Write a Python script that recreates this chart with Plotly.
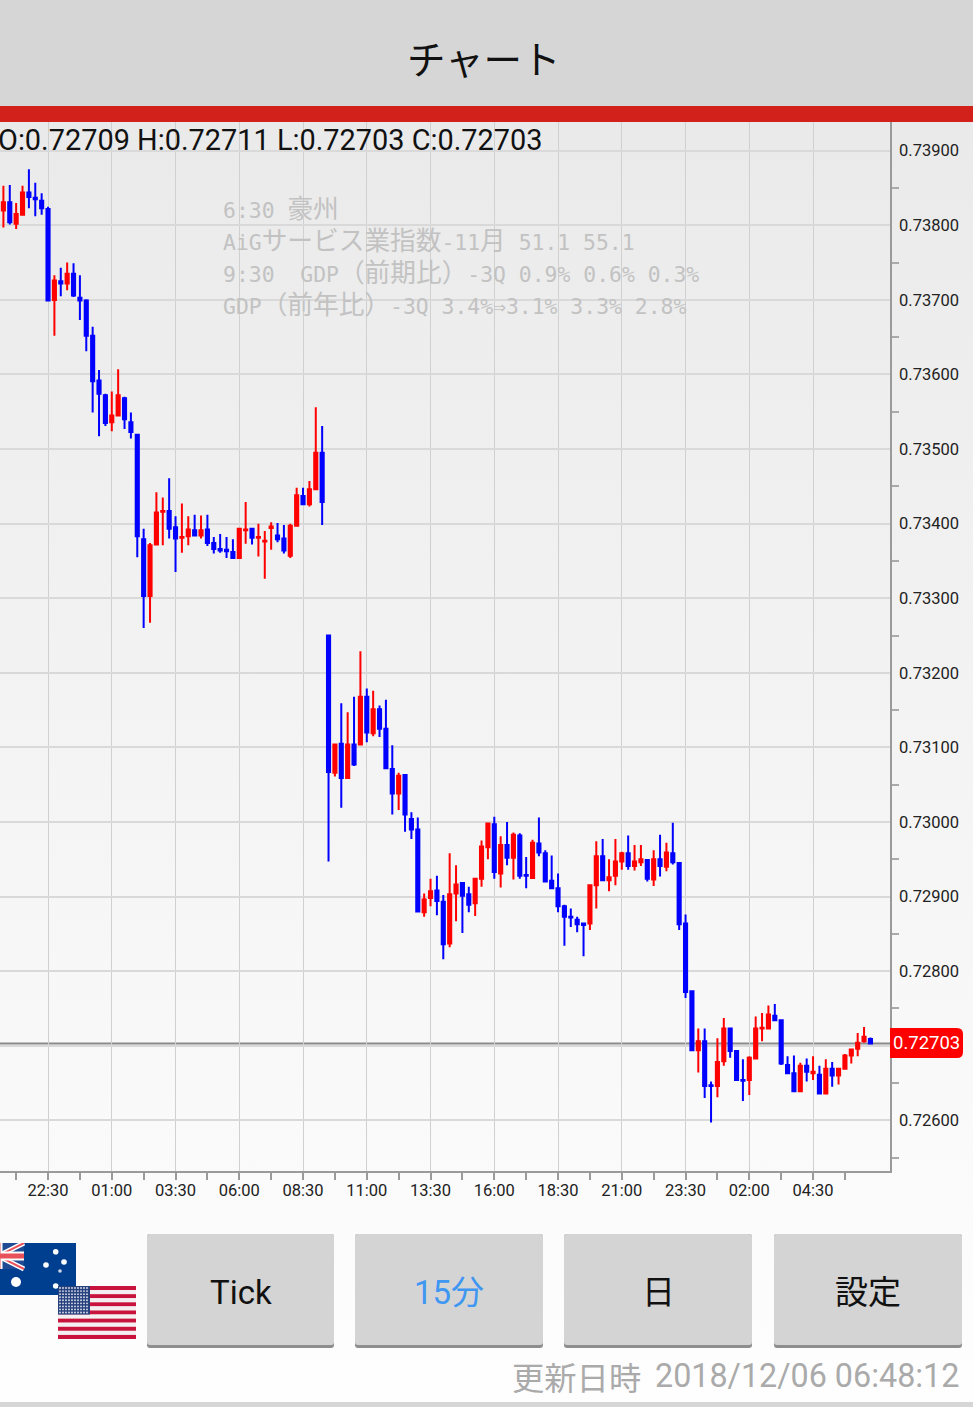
import re
from urllib.parse import quote
import plotly.graph_objects as go

# Quotes in units of 0.00001 (AUD/USD, 15-minute bars)
highs = [73853,73854,73830,73853,73875,73857,73843,73825,73733,73743,73750,73749,73733,73701,73664,73606,73574,73577,73607,73570,
         73549,73520,73393,73374,73442,73435,73461,73410,73427,73410,73412,73411,73412,73382,73386,73382,73379,73393,73429,73393,
         73400,73390,73402,73401,73398,73400,73448,73448,73457,73556,73531,73251,73105,73159,73147,73168,73229,73179,73176,73156,
         73164,73103,73066,73063,73013,73006,72904,72924,72928,72902,72958,72942,72918,72913,72924,72975,72998,73007,72981,73000,
         72986,72985,72953,72976,73006,72962,72955,72931,72889,72884,72873,72865,72915,72974,72977,72950,72977,72960,72982,72969,
         72969,72949,72962,72983,72972,72999,72945,72876,72773,72723,72723,72652,72710,72737,72723,72694,72682,72686,72739,72744,
         72754,72756,72734,72686,72687,72677,72683,72686,72673,72682,72678,72669,72689,72696,72717,72725,72711]
lows = [73797,73801,73795,73814,73823,73812,73814,73699,73652,73705,73713,73704,73673,73631,73549,73517,73531,73524,73544,73527,
        73514,73355,73260,73267,73371,73371,73380,73335,73361,73371,73383,73380,73370,73360,73361,73354,73354,73354,73373,73372,
        73356,73326,73365,73375,73360,73354,73397,73426,73423,73446,73398,72947,73061,73019,73059,73075,73104,73107,73115,73114,
        73071,73010,73016,72987,72977,72880,72873,72887,72875,72816,72832,72867,72851,72879,72874,72913,72950,72924,72912,72942,
        72923,72924,72911,72925,72954,72919,72911,72879,72834,72859,72852,72820,72855,72884,72922,72907,72915,72936,72936,72935,
        72941,72920,72914,72927,72934,72943,72855,72764,72693,72664,72630,72597,72631,72673,72684,72653,72626,72634,72683,72706,
        72723,72734,72674,72662,72639,72639,72652,72654,72636,72636,72645,72648,72669,72676,72686,72704,72703]
opens = [73820,73831,73802,73814,73844,73837,73833,73822,73700,73725,73722,73735,73703,73699,73652,73592,73572,73536,73545,73568,
         73536,73519,73379,73303,73372,73416,73417,73395,73381,73383,73391,73384,73392,73374,73366,73365,73362,73354,73391,73393,
         73381,73376,73394,73384,73380,73357,73397,73437,73426,73446,73495,73250,73066,73105,73059,73104,73104,73168,73119,73151,
         73125,73071,73038,73063,73004,72990,72879,72898,72908,72893,72837,72904,72918,72903,72891,72924,72966,72997,72931,72969,
         72952,72982,72929,72925,72971,72958,72921,72911,72887,72873,72869,72864,72864,72915,72954,72922,72928,72947,72958,72941,
         72946,72949,72923,72950,72940,72958,72945,72864,72773,72694,72706,72647,72646,72679,72723,72693,72654,72654,72683,72723,
         72723,72740,72734,72674,72663,72639,72673,72663,72661,72636,72669,72660,72669,72687,72696,72706,72709]
closes = [73831,73804,73815,73844,73838,73835,73823,73699,73726,73722,73735,73706,73699,73652,73591,73574,73535,73545,73572,73540,
          73523,73383,73303,73371,73415,73417,73393,73380,73382,73392,73384,73391,73374,73366,73364,73363,73354,73393,73392,73381,
          73382,73377,73396,73379,73364,73397,73438,73426,73446,73495,73429,73067,73104,73059,73104,73077,73168,73120,73151,73125,
          73072,73038,73062,73010,72990,72880,72896,72907,72894,72836,72903,72916,72901,72889,72924,72967,72998,72933,72969,72952,
          72983,72928,72928,72972,72959,72920,72911,72887,72873,72872,72863,72862,72915,72954,72922,72926,72947,72958,72941,72947,
          72950,72924,72950,72941,72959,72946,72863,72772,72694,72706,72646,72646,72678,72723,72693,72654,72653,72684,72723,72724,
          72742,72734,72676,72663,72639,72673,72665,72665,72636,72669,72660,72669,72687,72695,72704,72712,72703]
bar_index = list(range(len(opens)))

time_labels = ["22:30","01:00","03:30","06:00","08:30","11:00","13:30","16:00","18:30","21:00","23:30","02:00","04:30"]
time_label_bars = [7,17,27,37,47,57,67,77,87,97,107,117,127]
axis_tick_bars = [2,7,12,17,22,27,32,37,42,47,52,57,62,67,72,77,82,87,92,97,102,107,112,117,122,127,132]
price_ticks = [0.726,0.727,0.728,0.729,0.730,0.731,0.732,0.733,0.734,0.735,0.736,0.737,0.738,0.739]
price_minor_ticks = [0.7255,0.7265,0.7275,0.7285,0.7295,0.7305,0.7315,0.7325,0.7335,0.7345,0.7355,0.7365,0.7375,0.7385]
current_price = 0.72703

header_text = "O:0.72709 H:0.72711 L:0.72703 C:0.72703"
news_lines = ["6:30 豪州", "AiGサービス業指数-11月 51.1 55.1",
              "9:30  GDP（前期比）-3Q 0.9% 0.6% 0.3%", "GDP（前年比）-3Q 3.4%⇒3.1% 3.3% 2.8%"]
buttons = ["Tick", "15分", "日", "設定"]

W, H = 973, 1407
PL, PR, PT, PB = 0, 890, 122, 1171
def fx(p): return (p - PL) / (PR - PL)
def fy(p): return 1 - (p - PT) / (PB - PT)
ROBOTO = "Roboto, 'Noto Sans CJK JP', sans-serif"
CJK = "'Noto Sans CJK JP', Roboto, sans-serif"

def mono(s):
    return re.sub(r"([^\x00-\x7f⇒]+)",
                  lambda m: f'<span style="font-size:25.7px;font-family:\'Noto Sans CJK JP\'">{m.group(1)}</span>', s)

def svg_uri(body, w, h, extra=""):
    s = f"<svg xmlns='http://www.w3.org/2000/svg' width='{w}' height='{h}' viewBox='0 0 {w} {h}'>{extra}{body}</svg>"
    return "data:image/svg+xml," + quote(s)

fig = go.Figure(go.Candlestick(
    x=bar_index,
    open=[v / 1e5 for v in opens], high=[v / 1e5 for v in highs],
    low=[v / 1e5 for v in lows], close=[v / 1e5 for v in closes],
    line=dict(width=2),
    increasing=dict(line=dict(color="#ff0000", width=2), fillcolor="#ff0000"),
    decreasing=dict(line=dict(color="#0000ff", width=2), fillcolor="#0000ff"),
    whiskerwidth=0, showlegend=False, hoverinfo="skip",
))

shapes, annotations, images = [], [], []

def rect(x0, y0, x1, y1, color, layer="below"):
    shapes.append(dict(type="rect", xref="paper", yref="paper", x0=fx(x0), x1=fx(x1), y0=fy(y0), y1=fy(y1),
                       fillcolor=color, line=dict(width=0), layer=layer))

def round_rect(x0, y0, x1, y1, color, r=3):
    a, b, c, d = fx(x0), fx(x1), fy(y1), fy(y0)
    rx, ry = r / (PR - PL), r / (PB - PT)
    shapes.append(dict(type="path", xref="paper", yref="paper", fillcolor=color, line=dict(width=0), layer="below",
                       path=(f"M{a+rx},{c} L{b-rx},{c} Q{b},{c} {b},{c+ry} L{b},{d-ry} Q{b},{d} {b-rx},{d} "
                             f"L{a+rx},{d} Q{a},{d} {a},{d-ry} L{a},{c+ry} Q{a},{c} {a+rx},{c} Z")))

def text(x, y, s, size, color="#111111", font=ROBOTO, anchor="center"):
    annotations.append(dict(xref="paper", yref="paper", x=fx(x), y=fy(y), text=s, showarrow=False,
                            xanchor=anchor, yanchor="middle", borderpad=0,
                            font=dict(size=size, color=color, family=font)))

# page background gradient below the header
grad = ("<defs><linearGradient id='g' x1='0' y1='0' x2='0' y2='1'><stop offset='0' stop-color='#eaeaea'/>"
        "<stop offset='1' stop-color='#fefefe'/></linearGradient></defs>")
images.append(dict(source=svg_uri("<rect width='973' height='1285' fill='url(#g)'/>", 973, 1285, grad),
                   xref="paper", yref="paper", x=fx(0), y=fy(122), sizex=973/890, sizey=1285/1049,
                   sizing="stretch", xanchor="left", yanchor="top", layer="below"))

# header
rect(0, 0, W, 106, "#d6d6d6")
rect(0, 106, W, 122, "#d2201a")
text(484, 56.5, "チャート", 38.5, "#111111", CJK)
text(-3, 140, header_text, 28.9, "#111111", ROBOTO, "left")

# flags
au = ("<rect width='104' height='52' fill='#003f8f'/>"
      "<rect width='52' height='26' fill='#1f4a94'/>"
      "<path d='M0 0L52 26M52 0L0 26' stroke='#fff' stroke-width='5'/>"
      "<path d='M0 0L52 26M52 0L0 26' stroke='#e8505b' stroke-width='2'/>"
      "<path d='M26 0V26M0 13H52' stroke='#fff' stroke-width='9'/>"
      "<path d='M26 0V26M0 13H52' stroke='#e8505b' stroke-width='5'/>"
      "<circle cx='44' cy='39' r='5' fill='#fff'/><circle cx='83.7' cy='8.7' r='2.8' fill='#fff'/>"
      "<circle cx='74' cy='22' r='2.8' fill='#fff'/><circle cx='92' cy='19' r='2.8' fill='#fff'/>"
      "<circle cx='88' cy='28' r='1.8' fill='#cfd8e8'/><circle cx='83.7' cy='43' r='2.8' fill='#fff'/>")
images.append(dict(source=svg_uri(au, 104, 52), xref="paper", yref="paper", x=fx(-28), y=fy(1243),
                   sizex=104/890, sizey=52/1049, sizing="stretch", xanchor="left", yanchor="top", layer="above"))
stripes = "".join(f"<rect y='{i*4}' width='78' height='4' fill='{'#c8143c' if i % 2 == 0 else '#f4f0f2'}'/>" for i in range(13))
stars = "".join(f"<circle cx='{2+c*3}' cy='{2+r*3}' r='0.9' fill='#dfe4f0'/>" for r in range(9) for c in range(10))
us = stripes + "<rect width='32' height='28' fill='#27407e'/>" + stars
images.append(dict(source=svg_uri(us, 78, 52), xref="paper", yref="paper", x=fx(58), y=fy(1286),
                   sizex=78/890, sizey=53/1049, sizing="stretch", xanchor="left", yanchor="top", layer="above"))

# buttons
button_edges = [(147, 334), (355, 543), (564, 752), (774, 962)]
button_colors = ["#111111", "#3f97f2", "#111111", "#111111"]
for (x0, x1), label, col in zip(button_edges, buttons, button_colors):
    round_rect(x0, 1234, x1, 1348, "#8e8e8e")
    round_rect(x0, 1234, x1, 1345, "#d4d4d4")
    text((x0 + x1) / 2, 1292, label, 33, col, ROBOTO)

# footer
text(576, 1376, "更新日時", 32.3, "#aaaaaa", CJK)
text(959.5, 1376, "2018/12/06 06:48:12", 32.3, "#aaaaaa", ROBOTO, "right")
rect(0, 1402, W, 1407, "#d6d6d6")

# news overlay
for y, line in zip([206, 238, 270, 302], news_lines):
    text(222, y, mono(line), 21.4, "#c2c2c2", "'DejaVu Sans Mono', monospace", "left")

# current price line and tag
shapes.append(dict(type="line", xref="paper", yref="y", x0=0, x1=1, y0=current_price, y1=current_price,
                   line=dict(color="#8a8a8a", width=2), layer="below"))
x0, x1, y0, y1, r = fx(890), fx(963), fy(1058), fy(1028), 6
rx, ry = r / (PR - PL), r / (PB - PT)
shapes.append(dict(type="path", xref="paper", yref="paper", fillcolor="#ff0000", line=dict(width=0), layer="above",
                   path=(f"M{x0},{y0} L{x1-rx},{y0} Q{x1},{y0} {x1},{y0+ry} L{x1},{y1-ry} Q{x1},{y1} {x1-rx},{y1} "
                         f"L{x0},{y1} Z")))
text(926.5, 1043, f"{current_price:.5f}", 18.5, "#ffffff", ROBOTO)

fig.update_layout(
    width=W, height=H, autosize=False,
    margin=dict(l=PL, r=W - PR, t=PT, b=H - PB, pad=0),
    paper_bgcolor="#fefefe", plot_bgcolor="rgba(0,0,0,0)",
    boxgap=0.3, showlegend=False, shapes=shapes, annotations=annotations, images=images,
    xaxis=dict(range=[-0.533, 139.07], rangeslider=dict(visible=False), tickmode="array",
               tickvals=time_label_bars, ticktext=time_labels, showgrid=True, gridcolor="#d0d0d0", gridwidth=1.2,
               zeroline=False, showline=True, linecolor="#9a9a9a", linewidth=1.5, mirror=False,
               ticks="outside", ticklen=3, tickwidth=1.5, tickcolor="rgba(0,0,0,0)",
               tickangle=0, tickfont=dict(family=ROBOTO, size=16.5, color="#222222"),
               minor=dict(tickmode="array", tickvals=axis_tick_bars, ticks="outside", ticklen=7, tickwidth=1.5,
                          tickcolor="#9a9a9a", showgrid=False)),
    yaxis=dict(side="right", range=[0.72532, 0.739385], tickmode="array", tickvals=price_ticks,
               tickformat=".5f", showgrid=True, gridcolor="#d9d9d9", gridwidth=1.5, zeroline=False,
               showline=True, linecolor="#9a9a9a", linewidth=1.5, ticks="outside", ticklen=4,
               tickcolor="rgba(0,0,0,0)", tickfont=dict(family=ROBOTO, size=16.5, color="#222222"),
               minor=dict(tickmode="array", tickvals=price_minor_ticks, ticks="outside", ticklen=7, tickwidth=1.5,
                          tickcolor="#aaaaaa", showgrid=False)),
)

fig.write_html("out.html", config=dict(displayModeBar=False),
               post_script="document.body.style.margin='0';document.documentElement.style.overflow='hidden';")
